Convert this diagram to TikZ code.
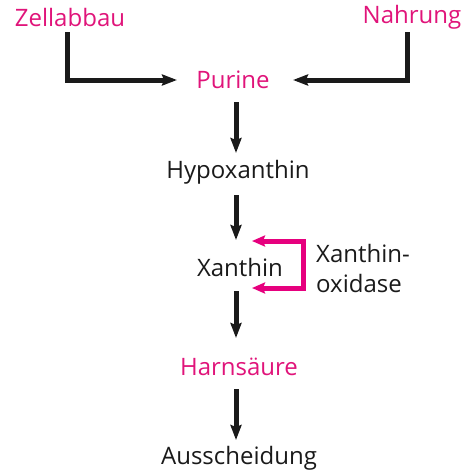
\documentclass[tikz,border=0pt]{standalone}
\usepackage{fontspec}
\setmainfont{Open Sans}
\usetikzlibrary{arrows.meta,calc}
\definecolor{mag}{HTML}{E0147A}
\definecolor{magline}{HTML}{E6007E}
\definecolor{txt}{HTML}{1A1A1A}
\begin{document}
\begin{tikzpicture}[x=1pt,y=-1pt,
  lbl/.style={inner sep=0pt,font=\fontsize{24}{28}\selectfont,text=txt},
  plbl/.style={lbl,text=mag},
  flow/.style={line width=5pt,draw=txt,-{Stealth[length=15pt,width=11pt,inset=2pt]}},
  enz/.style={line width=5pt,draw=magline,-{Stealth[length=13pt,width=11pt,inset=2pt]}}]
\useasboundingbox (0,0) rectangle (474,474);
\node[plbl] (zell) at (70,17) {Zellabbau};
\node[plbl] (nahr) at (412,17) {Nahrung};
\node[plbl] (pur) at (233,80) {Purine};
\node[lbl] (hyp) at (238,172) {Hypoxanthin};
\node[lbl] (xan) at (240,267) {Xanthin};
\node[plbl] (harn) at (239,367) {Harnsäure};
\node[lbl] (aus) at (239,458) {Ausscheidung};
\node[lbl,anchor=west] (xo1) at (316,253) {Xanthin-};
\node[lbl,anchor=west] (xo2) at (316,283) {oxidase};
\coordinate (zc) at (67,32);
\coordinate (nc) at (407,32);
\coordinate (zt) at (177,80);
\coordinate (nt) at (293,80);
\draw[flow,line join=miter] (zc) |- (zt);
\draw[flow,line join=miter] (nc) |- (nt);
\draw[flow] (236,102) -- (236,153);
\draw[flow] (236,195) -- (236,240);
\draw[flow] (236,291) -- (236,338);
\draw[flow] (236,389) -- (236,440);
\coordinate (bt) at (252,241);
\coordinate (bb) at (252,288);
\draw[magline,line width=5pt,line join=miter] ($(bt)+(14,0)$) -- (303,241) -- (303,288) -- ($(bb)+(14,0)$);
\draw[enz] (266,241) -- (bt);
\draw[enz] (266,288) -- (bb);
\end{tikzpicture}
\end{document}
